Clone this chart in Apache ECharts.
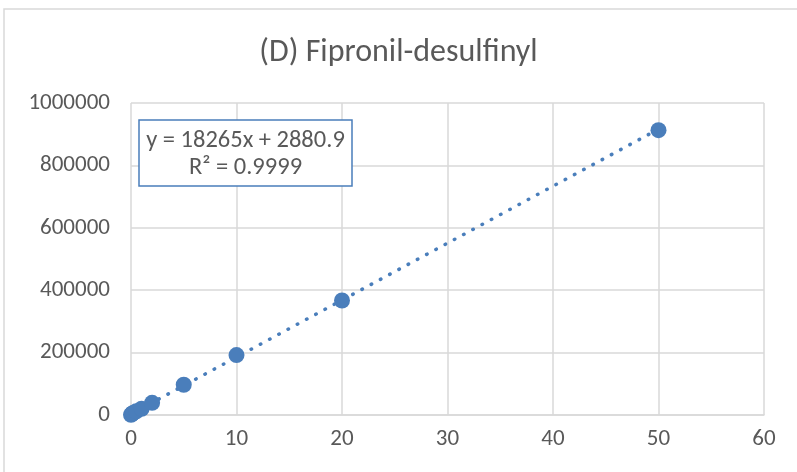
<!DOCTYPE html>
<html><head><meta charset="utf-8">
<script src="https://cdn.jsdelivr.net/npm/echarts@6/dist/echarts.min.js"></script>
<style>html,body{margin:0;padding:0;background:#fff}#c{width:797px;height:472px}</style>
</head><body><div id="c"></div>
<script>
const concentrations = [0, 0.1, 0.2, 0.5, 1, 2, 5, 10, 20, 50];
const responses = [500, 4000, 6500, 12000, 20000, 39000, 97000, 192000, 367000, 913000];
const trendX = [0, 50];
const trendY = [2880.9, 916130.9];
const xTicks = [0, 10, 20, 30, 40, 50, 60];
const yTicks = [0, 200000, 400000, 600000, 800000, 1000000];
const titleText = '(D) Fipronil-desulfinyl';
const eqLines = ['y = 18265x + 2880.9', 'R² = 0.9999'];

const chart = echarts.init(document.getElementById('c'), null, {renderer: 'canvas'});
const font = '"Calibri","Carlito","Lato","Noto Sans",sans-serif';
chart.setOption({
  animation: false,
  backgroundColor: '#fff',
  title: {text: titleText, left: 'center', top: 32,
    textStyle: {fontFamily: font, fontSize: 32, fontWeight: 'normal', color: '#595959'}},
  grid: {left: 131, right: 33, top: 103, bottom: 57},
  xAxis: {type: 'value', min: xTicks[0], max: xTicks[xTicks.length-1], interval: 10,
    axisLine: {show: true, lineStyle: {color: '#d9d9d9', width: 1.5}}, axisTick: {show: false},
    splitLine: {show: true, lineStyle: {color: '#d9d9d9', width: 1.5}},
    axisLabel: {color: '#595959', fontSize: 23, fontFamily: font, margin: 13}},
  yAxis: {type: 'value', min: yTicks[0], max: yTicks[yTicks.length-1], interval: 200000,
    axisLine: {show: false}, axisTick: {show: false},
    splitLine: {show: true, lineStyle: {color: '#d9d9d9', width: 1.5}},
    axisLabel: {color: '#595959', fontSize: 23, fontFamily: font, margin: 21,
      formatter: v => String(v)}},
  series: [
    {type: 'line', data: trendX.map((x, i) => [x, trendY[i]]), symbol: 'none',
      lineStyle: {color: '#4A7EBB', width: 3.5, type: [0.5, 10], cap: 'round'}, z: 2, silent: true},
    {type: 'scatter', data: concentrations.map((x, i) => [x, responses[i]]),
      symbolSize: 16, itemStyle: {color: '#4A7EBB', opacity: 1}, z: 3}
  ],
  graphic: [
    {type: 'rect', x: 4, y: 9, shape: {width: 800, height: 480},
      style: {fill: 'none', stroke: '#d9d9d9', lineWidth: 1.5}, z: -1},
    {type: 'rect', x: 139, y: 120, shape: {width: 213, height: 66},
      style: {fill: '#fff', stroke: '#4A7EBB', lineWidth: 1.5}, z: 10},
    {type: 'text', x: 245.5, y: 141, style: {text: eqLines[0], fill: '#595959',
      font: '24.5px ' + font, align: 'center', verticalAlign: 'middle'}, z: 11},
    {type: 'text', x: 245.5, y: 168, style: {text: eqLines[1], fill: '#595959',
      font: '24.5px ' + font, align: 'center', verticalAlign: 'middle'}, z: 11}
  ]
});
</script></body></html>
